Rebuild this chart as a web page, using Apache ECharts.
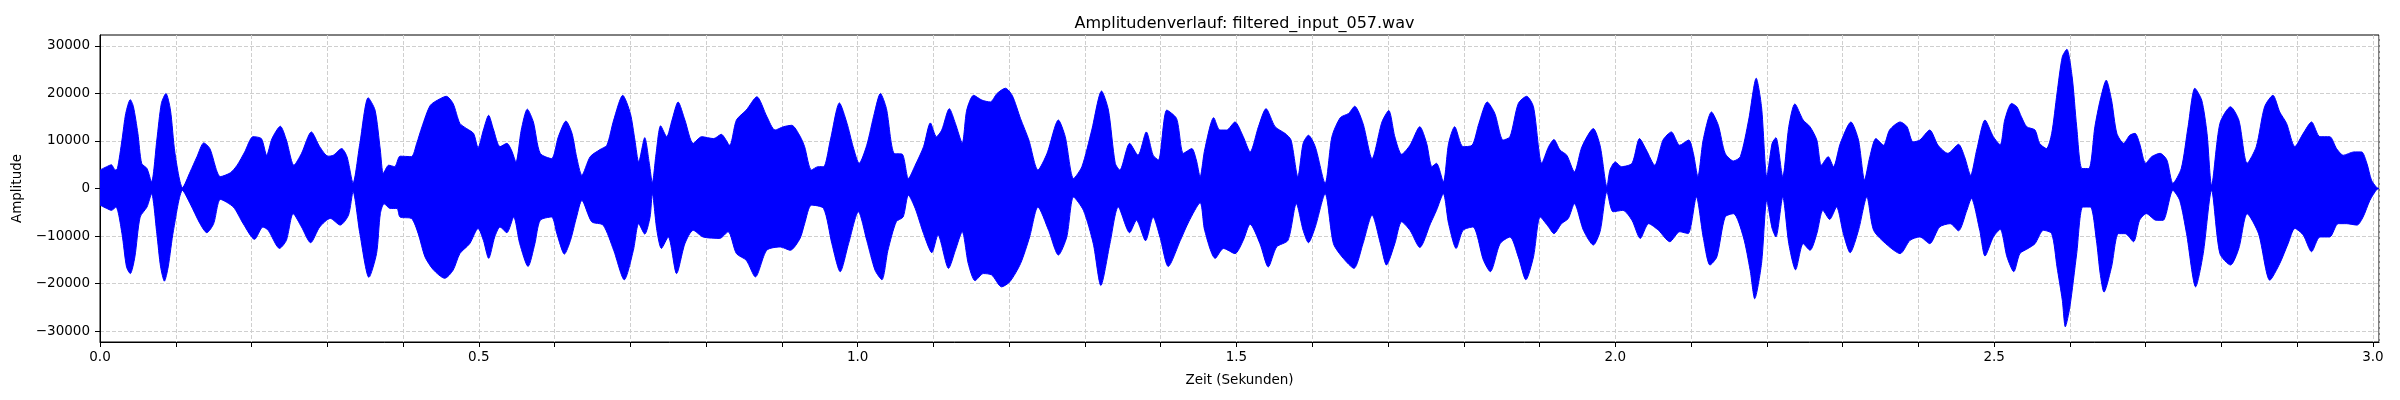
<!DOCTYPE html>
<html lang="de">
<head>
    <meta charset="UTF-8">
    <title>Amplitudenverlauf</title>
    <script type="text/javascript" src="https://cdn.jsdelivr.net/npm/echarts@6.0.0/dist/echarts.min.js"></script>
    <style type="text/css">
        html, body {
            margin: 0;
            padding: 0;
            background: #fff;
        }
        #chart {
            width: 2400px;
            height: 400px;
        }
    </style>
</head>
<body>
<div id="chart"></div>

<script type="text/javascript">
    // Envelope of the waveform (time in s, amplitude)
    var upperTime = [
        0.000, 0.009, 0.015, 0.020, 0.023, 0.029, 0.034, 0.040, 0.044, 0.050, 0.055, 0.062, 0.068, 0.075, 0.081, 0.087,
        0.093, 0.099, 0.109, 0.119, 0.128, 0.137, 0.145, 0.159, 0.172, 0.181, 0.191, 0.202, 0.213, 0.220, 0.227, 0.238,
        0.246, 0.256, 0.266, 0.279, 0.290, 0.301, 0.308, 0.319, 0.326, 0.334, 0.343, 0.354, 0.363, 0.370, 0.374, 0.381,
        0.389, 0.396, 0.411, 0.418, 0.425, 0.436, 0.449, 0.457, 0.466, 0.475, 0.484, 0.493, 0.499, 0.506, 0.513, 0.519,
        0.528, 0.537, 0.543, 0.549, 0.556, 0.564, 0.572, 0.581, 0.596, 0.605, 0.615, 0.623, 0.629, 0.636, 0.647, 0.660,
        0.669, 0.678, 0.690, 0.700, 0.706, 0.711, 0.719, 0.725, 0.729, 0.734, 0.740, 0.748, 0.755, 0.763, 0.772, 0.783,
        0.794, 0.810, 0.820, 0.831, 0.840, 0.853, 0.867, 0.880, 0.891, 0.902, 0.913, 0.924, 0.930, 0.939, 0.948, 0.955,
        0.964, 0.976, 0.986, 0.994, 1.002, 1.012, 1.022, 1.030, 1.038, 1.048, 1.059, 1.067, 1.076, 1.087, 1.096, 1.104,
        1.111, 1.121, 1.129, 1.138, 1.144, 1.153, 1.164, 1.175, 1.184, 1.195, 1.204, 1.215, 1.226, 1.238, 1.250, 1.265,
        1.274, 1.285, 1.296, 1.309, 1.322, 1.331, 1.340, 1.346, 1.359, 1.370, 1.381, 1.390, 1.397, 1.408, 1.421, 1.430,
        1.441, 1.447, 1.452, 1.458, 1.470, 1.478, 1.487, 1.498, 1.509, 1.518, 1.529, 1.539, 1.551, 1.564, 1.572, 1.581,
        1.588, 1.595, 1.604, 1.617, 1.626, 1.637, 1.648, 1.656, 1.667, 1.679, 1.692, 1.701, 1.709, 1.718, 1.729, 1.742,
        1.751, 1.758, 1.764, 1.773, 1.780, 1.788, 1.799, 1.811, 1.820, 1.831, 1.841, 1.852, 1.861, 1.872, 1.883, 1.892,
        1.903, 1.912, 1.919, 1.927, 1.936, 1.946, 1.956, 1.971, 1.980, 1.989, 1.993, 2.000, 2.008, 2.022, 2.032, 2.041,
        2.052, 2.063, 2.074, 2.085, 2.097, 2.103, 2.109, 2.116, 2.127, 2.136, 2.145, 2.156, 2.165, 2.176, 2.186, 2.193,
        2.200, 2.207, 2.212, 2.221, 2.229, 2.237, 2.248, 2.257, 2.266, 2.272, 2.281, 2.288, 2.297, 2.311, 2.321, 2.329,
        2.336, 2.344, 2.354, 2.362, 2.376, 2.385, 2.393, 2.402, 2.415, 2.426, 2.439, 2.453, 2.461, 2.469, 2.477, 2.488,
        2.499, 2.508, 2.514, 2.523, 2.530, 2.536, 2.543, 2.554, 2.560, 2.569, 2.576, 2.583, 2.590, 2.596, 2.603, 2.609,
        2.616, 2.625, 2.633, 2.640, 2.648, 2.655, 2.662, 2.671, 2.679, 2.686, 2.692, 2.700, 2.708, 2.719, 2.728, 2.736,
        2.747, 2.756, 2.765, 2.774, 2.781, 2.787, 2.798, 2.812, 2.823, 2.834, 2.846, 2.857, 2.868, 2.877, 2.886, 2.897,
        2.908, 2.919, 2.930, 2.943, 2.952, 2.961, 2.975, 2.985, 2.992, 2.998, 3.005, 3.008
    ];
    var upperAmp = [
        3900, 4600, 5000, 3900, 4200, 10200, 15800, 18700, 17300, 11600, 5300, 4200, 1400, 10200, 17900, 20000,
        16500, 7400, 200, 3500, 6700, 9600, 8400, 2500, 3300, 4900, 7700, 10900, 10500, 7000, 10500, 13100,
        10200, 4900, 7400, 11900, 8800, 6800, 7000, 8400, 6700, 1200, 9500, 19100, 16500, 8100, 3200, 4900,
        4600, 6800, 6700, 9500, 13000, 17500, 18900, 19400, 17900, 13700, 12600, 11600, 8600, 12300, 15400, 12600,
        8800, 9500, 8100, 5600, 12300, 16700, 14000, 7400, 6300, 10900, 14200, 11600, 6700, 2800, 6700, 8200,
        9100, 14400, 19600, 15800, 10200, 5600, 10700, 5300, 1200, 7400, 13200, 10900, 14400, 18200, 14400, 9500,
        10900, 10500, 11400, 9100, 14400, 16500, 19300, 15200, 12300, 13000, 13300, 11000, 8800, 3900, 4600, 4600,
        10200, 18000, 13700, 8800, 5300, 9100, 15800, 20000, 16800, 7400, 7200, 2100, 4900, 8800, 13800, 10900,
        12300, 16800, 13700, 9600, 16500, 19600, 18600, 18200, 20000, 21100, 19600, 14700, 10200, 3900, 7400, 14400,
        10900, 2100, 4600, 12300, 20500, 16500, 5300, 3900, 9500, 7000, 11900, 7000, 6000, 16500, 14700, 7400,
        8400, 6000, 2500, 8100, 14900, 12300, 12300, 14000, 10900, 7700, 13000, 16800, 13000, 11600, 10200, 2500,
        9500, 11200, 8800, 1100, 10900, 14900, 15800, 17300, 13700, 6300, 14000, 16400, 10900, 7200, 9100, 13000,
        9500, 4600, 5300, 1400, 9500, 13000, 8800, 9100, 13700, 18200, 15800, 10200, 10900, 17900, 19400, 17200,
        5300, 8800, 10300, 8100, 7000, 3500, 8800, 12600, 9000, 400, 3900, 5600, 4600, 5300, 10500, 8100,
        4900, 10200, 11900, 9100, 10200, 7400, 2500, 10200, 16100, 13300, 7400, 5800, 6700, 14400, 23200, 17200,
        2500, 9500, 10700, 2500, 13000, 17800, 14400, 13000, 10200, 4900, 6700, 4600, 9500, 14000, 10200, 1800,
        6700, 10500, 9100, 12300, 14000, 13000, 9800, 10200, 12300, 9100, 7400, 9300, 6700, 2800, 8100, 14400,
        10900, 9200, 14400, 17900, 17200, 15100, 13000, 12300, 9500, 8400, 11600, 20000, 27700, 29300, 23500, 13000,
        4200, 4200, 13000, 18600, 22800, 18600, 11600, 9500, 11200, 11600, 9500, 5300, 6700, 7400, 6000, 1100,
        4200, 13000, 21100, 18600, 11600, 700, 13700, 17200, 14400, 5300, 8800, 17200, 19600, 16100, 13700, 8800,
        11600, 14000, 10900, 10900, 8400, 7000, 7700, 7700, 5300, 1800, 200, 0
    ];
    var lowerTime = [
        0.000, 0.009, 0.015, 0.021, 0.029, 0.035, 0.040, 0.046, 0.053, 0.062, 0.068, 0.075, 0.080, 0.085, 0.090, 0.097,
        0.109, 0.119, 0.132, 0.141, 0.150, 0.159, 0.176, 0.189, 0.204, 0.215, 0.222, 0.237, 0.246, 0.255, 0.266, 0.278,
        0.290, 0.304, 0.317, 0.328, 0.334, 0.343, 0.355, 0.365, 0.370, 0.375, 0.383, 0.392, 0.396, 0.411, 0.420, 0.429,
        0.440, 0.455, 0.466, 0.475, 0.488, 0.499, 0.506, 0.513, 0.521, 0.528, 0.537, 0.546, 0.554, 0.565, 0.574, 0.581,
        0.596, 0.603, 0.613, 0.621, 0.629, 0.636, 0.649, 0.664, 0.678, 0.692, 0.704, 0.711, 0.719, 0.726, 0.729, 0.735,
        0.741, 0.750, 0.761, 0.772, 0.783, 0.796, 0.818, 0.829, 0.840, 0.853, 0.865, 0.880, 0.898, 0.911, 0.924, 0.930,
        0.939, 0.955, 0.966, 0.977, 0.988, 1.001, 1.012, 1.023, 1.032, 1.040, 1.051, 1.060, 1.067, 1.076, 1.087, 1.098,
        1.106, 1.120, 1.129, 1.138, 1.146, 1.155, 1.166, 1.177, 1.190, 1.201, 1.215, 1.227, 1.238, 1.252, 1.265, 1.276,
        1.285, 1.298, 1.311, 1.321, 1.333, 1.344, 1.359, 1.368, 1.380, 1.390, 1.399, 1.410, 1.426, 1.437, 1.452, 1.458,
        1.472, 1.483, 1.498, 1.509, 1.518, 1.531, 1.542, 1.553, 1.568, 1.579, 1.588, 1.595, 1.604, 1.617, 1.628, 1.641,
        1.655, 1.667, 1.679, 1.690, 1.698, 1.709, 1.718, 1.729, 1.742, 1.756, 1.764, 1.773, 1.780, 1.790, 1.799, 1.812,
        1.826, 1.835, 1.848, 1.861, 1.872, 1.882, 1.892, 1.901, 1.912, 1.919, 1.929, 1.938, 1.946, 1.958, 1.971, 1.980,
        1.989, 1.997, 2.010, 2.022, 2.033, 2.044, 2.057, 2.072, 2.085, 2.096, 2.107, 2.116, 2.125, 2.134, 2.145, 2.156,
        2.169, 2.178, 2.184, 2.193, 2.200, 2.207, 2.212, 2.221, 2.229, 2.238, 2.248, 2.257, 2.266, 2.274, 2.283, 2.292,
        2.301, 2.310, 2.321, 2.332, 2.341, 2.359, 2.376, 2.389, 2.402, 2.415, 2.428, 2.442, 2.453, 2.464, 2.470, 2.481,
        2.488, 2.499, 2.508, 2.517, 2.526, 2.534, 2.545, 2.554, 2.565, 2.576, 2.583, 2.590, 2.594, 2.600, 2.609, 2.617,
        2.627, 2.635, 2.640, 2.645, 2.655, 2.664, 2.673, 2.684, 2.692, 2.701, 2.714, 2.723, 2.736, 2.745, 2.754, 2.766,
        2.776, 2.787, 2.798, 2.812, 2.823, 2.834, 2.849, 2.864, 2.877, 2.888, 2.897, 2.908, 2.919, 2.930, 2.943, 2.954,
        2.965, 2.979, 2.987, 2.996, 3.005, 3.008
    ];
    var lowerAmp = [
        -3500, -4200, -4600, -3900, -9500, -16500, -17900, -14400, -6000, -3900, -1100, -9500, -16500, -19500, -16500, -8800,
        -400, -3200, -7400, -9300, -7400, -2300, -3900, -7400, -10700, -8100, -8800, -12600, -10900, -5300, -8100, -11400,
        -8100, -6300, -7700, -5600, -700, -9500, -18700, -13700, -5300, -3200, -4200, -4200, -6000, -6300, -9500, -14400,
        -17100, -18900, -17200, -13700, -11600, -8400, -10900, -14700, -10200, -8100, -9300, -6000, -11600, -16400, -11600, -6700,
        -6000, -9500, -13800, -10900, -6000, -2500, -7000, -7700, -13000, -19200, -13000, -7400, -9600, -6000, -1100, -8800,
        -12600, -10200, -17900, -11600, -8800, -10200, -10500, -9100, -13700, -15100, -18600, -13000, -12300, -13000, -10500, -7400,
        -3500, -4200, -11600, -17500, -11600, -4900, -10900, -17200, -19200, -13000, -7000, -6000, -1400, -4200, -9500, -13500,
        -9800, -16800, -13000, -9100, -15800, -19400, -17900, -18200, -20700, -19600, -15800, -10200, -3900, -8800, -14000, -10200,
        -1800, -4600, -11600, -20400, -11600, -3900, -9300, -6700, -11000, -6000, -10200, -16400, -10900, -7000, -3000, -8800,
        -14700, -12600, -13700, -10900, -7500, -11600, -16500, -12300, -10900, -3200, -8800, -11400, -8100, -1100, -11600, -14700,
        -16800, -11600, -5600, -11600, -16100, -11600, -7000, -8800, -12400, -7400, -4600, -1100, -7400, -12600, -8800, -8100,
        -15100, -17500, -11600, -10200, -14400, -19200, -14400, -6000, -8100, -9500, -7400, -6300, -3200, -8800, -11900, -9000,
        -700, -4900, -4600, -6700, -10500, -7400, -8800, -11200, -9100, -9500, -1800, -10200, -16100, -14400, -6000, -5300,
        -10200, -17200, -23200, -15800, -2500, -8400, -10200, -1800, -11600, -17100, -11600, -13000, -9500, -4600, -6500, -3900,
        -9500, -13500, -8800, -1800, -8800, -11900, -13700, -10900, -10200, -11600, -8100, -7400, -8900, -4600, -2100, -8800,
        -14200, -10200, -8600, -14400, -17500, -13700, -12600, -11600, -8800, -9500, -16500, -23500, -29100, -24900, -13700, -3900,
        -3900, -10900, -17900, -21800, -16500, -9500, -9500, -11200, -6700, -5300, -6700, -6700, -400, -2500, -9500, -20700,
        -13700, -400, -13700, -16100, -12600, -5300, -9500, -19300, -15800, -11600, -8400, -9800, -13300, -10200, -10200, -7400,
        -7400, -7700, -6000, -2500, -200, 0
    ];

    var yTicks = [-30000, -20000, -10000, 0, 10000, 20000, 30000];
    var xLabelStep = 0.5;

    var FONT = 'DejaVu Sans';
    var chart = echarts.init(document.getElementById('chart'), null, { renderer: 'canvas' });

    function pairs(ts, vs) {
        return ts.map(function (t, i) { return [t, vs[i]]; });
    }

    var gridStyle = { color: '#cfcfcf', width: 1, type: [4, 2] };

    var option = {
        animation: false,
        backgroundColor: '#ffffff',
        title: {
            text: 'Amplitudenverlauf: filtered_input_057.wav',
            left: 1239.5,
            textAlign: 'center',
            top: 11,
            textStyle: { fontFamily: FONT, fontSize: 16, fontWeight: 'normal', color: '#000' }
        },
        grid: {
            left: 100, right: 21, top: 35, bottom: 58,
            show: true, borderColor: '#000', borderWidth: 1, backgroundColor: 'transparent'
        },
        xAxis: {
            type: 'value',
            min: 0,
            max: 3.008,
            interval: 0.1,
            name: 'Zeit (Sekunden)',
            nameLocation: 'middle',
            nameGap: 31,
            nameTextStyle: { fontFamily: FONT, fontSize: 13.5, color: '#000' },
            axisLine: { onZero: false, lineStyle: { color: '#000', width: 1 } },
            axisTick: { show: true, length: 5, lineStyle: { color: '#000' } },
            axisLabel: {
                fontFamily: FONT, fontSize: 13.5, color: '#000', margin: 8,
                showMaxLabel: false,
                formatter: function (v) {
                    var k = v / xLabelStep;
                    return Math.abs(k - Math.round(k)) < 1e-6 ? v.toFixed(1) : '';
                }
            },
            splitLine: { show: true, lineStyle: gridStyle }
        },
        yAxis: {
            type: 'value',
            min: -32300,
            max: 32300,
            name: 'Amplitude',
            nameLocation: 'middle',
            nameGap: 74,
            nameTextStyle: { fontFamily: FONT, fontSize: 13.5, color: '#000' },
            axisLine: { show: true, lineStyle: { color: '#000', width: 1 } },
            axisTick: { show: true, length: 5, customValues: yTicks, lineStyle: { color: '#000' } },
            axisLabel: {
                fontFamily: FONT, fontSize: 13.5, color: '#000', margin: 10,
                customValues: yTicks,
                formatter: function (v) {
                    return v < 0 ? '\u2212' + Math.abs(v) : String(v);
                }
            },
            splitLine: { show: false }
        },
        series: [
            {
                // carries only the horizontal grid lines, kept under the waveform
                type: 'line',
                data: [],
                z: 0,
                markLine: {
                    silent: true,
                    z: 0,
                    symbol: 'none',
                    label: { show: false },
                    lineStyle: gridStyle,
                    data: yTicks.map(function (v) { return { yAxis: v }; })
                }
            },
            {
                type: 'line',
                data: pairs(upperTime, upperAmp),
                symbol: 'none',
                smooth: 0.25,
                lineStyle: { color: '#0000ff', width: 1 },
                // reach a little below zero so the two halves join without a seam
                areaStyle: { color: '#0000ff', opacity: 1, origin: -250 },
                z: 3
            },
            {
                type: 'line',
                data: pairs(lowerTime, lowerAmp),
                symbol: 'none',
                smooth: 0.25,
                lineStyle: { color: '#0000ff', width: 1 },
                areaStyle: { color: '#0000ff', opacity: 1 },
                z: 3
            }
        ]
    };
    chart.setOption(option);
</script>
</body>
</html>
